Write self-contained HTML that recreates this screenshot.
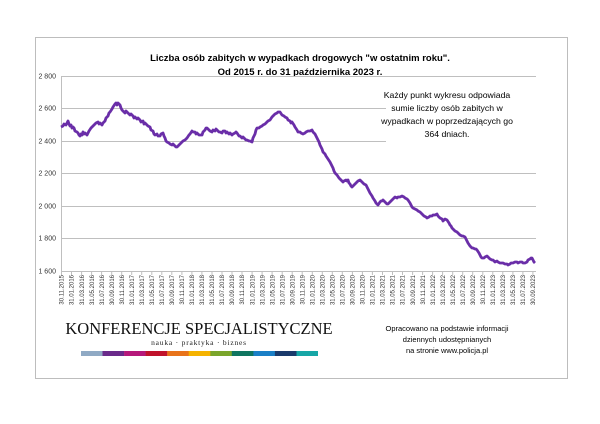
<!DOCTYPE html>
<html><head><meta charset="utf-8"><style>
html,body{margin:0;padding:0;background:#fff;}
svg{display:block;font-family:"Liberation Sans",sans-serif;}
</style></head><body>
<svg width="600" height="424" viewBox="0 0 600 424" xmlns="http://www.w3.org/2000/svg">
<rect x="35.5" y="37.5" width="532" height="341" fill="#fff" stroke="#bdbdbd" stroke-width="1"/>
<text x="300" y="61" text-anchor="middle" font-size="9.5" font-weight="bold" fill="#000">Liczba osób zabitych w wypadkach drogowych "w ostatnim roku".</text>
<text x="300" y="75" text-anchor="middle" font-size="9.5" font-weight="bold" fill="#000">Od 2015 r. do 31 października 2023 r.</text>
<g stroke="#bfbfbf" stroke-width="1">
<line x1="61" y1="76.5" x2="536" y2="76.5"/>
<line x1="61" y1="108.5" x2="386" y2="108.5"/>
<line x1="61" y1="141.5" x2="386" y2="141.5"/>
<line x1="61" y1="173.5" x2="536" y2="173.5"/>
<line x1="61" y1="206.5" x2="536" y2="206.5"/>
<line x1="61" y1="238.5" x2="536" y2="238.5"/>
<line x1="61" y1="271.5" x2="536" y2="271.5"/>
<line x1="61.5" y1="76" x2="61.5" y2="271"/>
</g>
<path stroke="#bfbfbf" stroke-width="1" fill="none" d="M61.5 271v4M71.5 271v4M81.6 271v4M91.6 271v4M101.6 271v4M111.7 271v4M121.7 271v4M131.7 271v4M141.7 271v4M151.8 271v4M161.8 271v4M171.8 271v4M181.9 271v4M191.9 271v4M201.9 271v4M212 271v4M222 271v4M232 271v4M242 271v4M252.1 271v4M262.1 271v4M272.1 271v4M282.2 271v4M292.2 271v4M302.2 271v4M312.3 271v4M322.3 271v4M332.3 271v4M342.3 271v4M352.4 271v4M362.4 271v4M372.4 271v4M382.5 271v4M392.5 271v4M402.5 271v4M412.6 271v4M422.6 271v4M432.6 271v4M442.6 271v4M452.7 271v4M462.7 271v4M472.7 271v4M482.8 271v4M492.8 271v4M502.8 271v4M512.9 271v4M522.9 271v4M532.9 271v4"/>
<rect x="387" y="80" width="150" height="68" fill="#fff"/>
<g font-size="7" fill="#333" text-anchor="end">
<text x="56" y="78.5">2 800</text><text x="56" y="110.5">2 600</text><text x="56" y="143.5">2 400</text><text x="56" y="175.5">2 200</text><text x="56" y="208.5">2 000</text><text x="56" y="240.5">1 800</text><text x="56" y="273.5">1 600</text>
</g>
<g font-size="8.7" fill="#000" text-anchor="middle">
<text x="447" y="98">Każdy punkt wykresu odpowiada</text>
<text x="447" y="111">sumie liczby osób zabitych w</text>
<text x="447" y="124">wypadkach w poprzedzających go</text>
<text x="447" y="137">364 dniach.</text>
</g>
<polyline fill="none" stroke="#6a2ea8" stroke-width="2.8" stroke-linejoin="round" points="61,127 63,126 64,124 66,125 67,123 68,121 69,124 70,126 71,125 72,128 73,127 74,128 75,131 77,132 78,133 79,135 80,136 81,134 82,135 83,132 84,134 85,133 87,135 88,133 89,131 91,128 92,127 94,125 95,124 96,123 98,122 99,124 100,123 102,125 103,123 105,121 106,118 108,116 109,113 110,112 112,109 113,107 115,104 116,103 117,105 118,103 120,105 121,108 122,110 124,112 125,113 126,111 127,112 129,114 130,115 131,114 133,116 134,118 135,117 137,119 138,118 140,120 141,122 143,121 144,124 145,123 147,125 148,126 150,127 151,130 153,131 154,134 155,135 157,134 158,136 160,136 161,134 163,133 164,136 165,138 166,141 167,142 169,143 170,144 172,145 173,144 175,146 176,147 177,147 179,145 180,144 182,142 183,141 185,140 186,139 187,138 189,135 190,134 192,131 193,132 195,132 196,134 197,133 199,135 200,135 202,135 203,132 205,130 206,128 207,128 209,130 210,131 212,132 213,130 215,131 216,129 217,130 219,132 220,132 222,133 223,131 225,131 226,133 227,132 229,134 230,133 232,135 233,134 235,133 236,132 237,133 239,136 240,136 242,138 243,137 245,139 246,140 247,140 249,141 250,141 252,142 253,138 255,134 256,130 257,128 259,128 260,127 262,126 263,125 265,124 266,123 268,121 270,120 272,117 274,115 275,114 277,113 278,112 280,112 282,115 284,116 285,117 287,118 288,120 290,121 291,123 292,122 294,125 295,127 297,130 298,132 300,132 301,133 303,134 305,133 306,132 308,131 310,131 312,130 313,132 315,134 316,136 317,138 319,142 320,145 322,149 323,152 325,154 326,156 328,159 330,162 332,166 333,168 334,171 335,173 337,175 339,178 341,180 343,182 344,181 346,180 347,181 348,180 349,183 350,184 351,186 352,187 354,185 356,183 358,181 360,180 362,182 364,184 366,185 367,187 369,191 370,193 372,196 373,198 375,201 376,203 377,204 378,205 380,202 381,201 382,201 383,200 385,202 386,203 387,204 388,204 390,202 392,200 393,199 395,197 397,198 398,197 400,197 402,196 404,197 405,198 407,199 408,200 410,203 411,205 412,207 413,208 415,209 417,210 418,211 420,212 422,214 424,216 426,217 427,218 429,217 430,216 432,216 433,215 435,215 437,214 438,216 440,218 442,219 443,221 445,219 447,220 449,223 450,225 451,226 452,228 454,230 455,231 457,232 458,233 460,235 462,236 463,236 465,237 467,241 468,243 470,246 472,248 473,248 475,249 476,249 477,250 479,253 480,255 481,257 482,258 484,258 485,257 487,256 488,257 490,259 492,260 493,260 495,262 497,261 498,262 500,263 502,263 503,263 505,264 507,264 508,265 510,264 511,263 512,263 513,263 515,262 517,262 518,263 520,262 522,262 523,263 525,263 527,262 528,260 530,259 531,258 532,258 533,260 534,262 535,263"/>
<g font-size="6" fill="#333" text-anchor="end" transform="translate(0,275) rotate(-90)">
<text x="0" y="63.7">30.11.2015</text><text x="0" y="73.7">31.01.2016</text><text x="0" y="83.8">31.03.2016</text><text x="0" y="93.8">31.05.2016</text><text x="0" y="103.8">31.07.2016</text><text x="0" y="113.9">30.09.2016</text><text x="0" y="123.9">30.11.2016</text><text x="0" y="133.9">31.01.2017</text><text x="0" y="143.9">31.03.2017</text><text x="0" y="154">31.05.2017</text><text x="0" y="164">31.07.2017</text><text x="0" y="174">30.09.2017</text><text x="0" y="184.1">30.11.2017</text><text x="0" y="194.1">31.01.2018</text><text x="0" y="204.1">31.03.2018</text><text x="0" y="214.2">31.05.2018</text><text x="0" y="224.2">31.07.2018</text><text x="0" y="234.2">30.09.2018</text><text x="0" y="244.2">30.11.2018</text><text x="0" y="254.3">31.01.2019</text><text x="0" y="264.3">31.03.2019</text><text x="0" y="274.3">31.05.2019</text><text x="0" y="284.4">31.07.2019</text><text x="0" y="294.4">30.09.2019</text><text x="0" y="304.4">30.11.2019</text><text x="0" y="314.5">31.01.2020</text><text x="0" y="324.5">31.03.2020</text><text x="0" y="334.5">31.05.2020</text><text x="0" y="344.5">31.07.2020</text><text x="0" y="354.6">30.09.2020</text><text x="0" y="364.6">30.11.2020</text><text x="0" y="374.6">31.01.2021</text><text x="0" y="384.7">31.03.2021</text><text x="0" y="394.7">31.05.2021</text><text x="0" y="404.7">31.07.2021</text><text x="0" y="414.8">30.09.2021</text><text x="0" y="424.8">30.11.2021</text><text x="0" y="434.8">31.01.2022</text><text x="0" y="444.8">31.03.2022</text><text x="0" y="454.9">31.05.2022</text><text x="0" y="464.9">31.07.2022</text><text x="0" y="474.9">30.09.2022</text><text x="0" y="485">30.11.2022</text><text x="0" y="495">31.01.2023</text><text x="0" y="505">31.03.2023</text><text x="0" y="515.1">31.05.2023</text><text x="0" y="525.1">31.07.2023</text><text x="0" y="535.1">30.09.2023</text>
</g>
<text x="199" y="334" text-anchor="middle" font-family="'Liberation Serif',serif" font-size="16.5" fill="#111">KONFERENCJE SPECJALISTYCZNE</text>
<text x="199" y="345" text-anchor="middle" font-family="'Liberation Serif',serif" font-size="7.5" letter-spacing="0.8" fill="#222">nauka · praktyka · biznes</text>
<g>
<rect x="81" y="351" width="21.8" height="5" fill="#8fa9c4"/>
<rect x="102.5" y="351" width="21.8" height="5" fill="#6a2a8a"/>
<rect x="124.1" y="351" width="21.8" height="5" fill="#b5187a"/>
<rect x="145.6" y="351" width="21.8" height="5" fill="#c0122b"/>
<rect x="167.2" y="351" width="21.8" height="5" fill="#e8731a"/>
<rect x="188.7" y="351" width="21.8" height="5" fill="#f5b300"/>
<rect x="210.3" y="351" width="21.8" height="5" fill="#7aa52b"/>
<rect x="231.8" y="351" width="21.8" height="5" fill="#0f7560"/>
<rect x="253.4" y="351" width="21.8" height="5" fill="#1a7fc6"/>
<rect x="274.9" y="351" width="21.8" height="5" fill="#1a3a6b"/>
<rect x="296.5" y="351" width="21.5" height="5" fill="#16a6a6"/>
</g>
<g font-size="7.5" fill="#000" text-anchor="middle">
<text x="447" y="331">Opracowano na podstawie informacji</text>
<text x="447" y="342">dziennych udostępnianych</text>
<text x="447" y="353">na stronie www.policja.pl</text>
</g>
</svg>
</body></html>
